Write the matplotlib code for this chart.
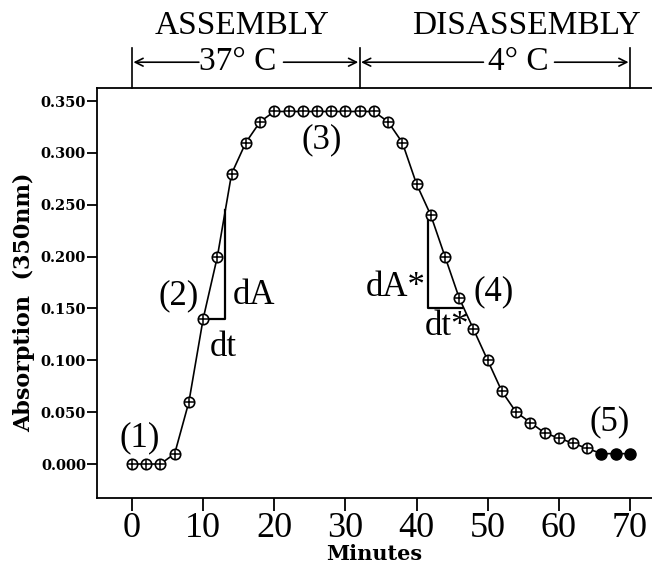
import matplotlib
matplotlib.use("Agg")
import matplotlib.pyplot as plt
import matplotlib.transforms as mtransforms

# ---- data ----
minutes = [0, 2, 4, 6, 8, 10, 12, 14, 16, 18, 20, 22, 24, 26, 28, 30, 32, 34,
           36, 38, 40, 42, 44, 46, 48, 50, 52, 54, 56, 58, 60, 62, 64, 66, 68, 70]
absorption = [0.000, 0.000, 0.000, 0.010, 0.060, 0.140, 0.200, 0.280, 0.310, 0.330,
              0.340, 0.340, 0.340, 0.340, 0.340, 0.340, 0.340, 0.340,
              0.330, 0.310, 0.270, 0.240, 0.200, 0.160, 0.130, 0.100, 0.070, 0.050,
              0.040, 0.030, 0.025, 0.020, 0.015, 0.010, 0.010, 0.010]
n_filled = 3  # last points drawn as solid dots

yticks = [0.000, 0.050, 0.100, 0.150, 0.200, 0.250, 0.300, 0.350]
xticks = [0, 10, 20, 30, 40, 50, 60, 70]

# tangent triangles (t, A) vertices
assembly_tri_t = [10, 13.1, 13.1]
assembly_tri_A = [0.140, 0.140, 0.245]
disassembly_tri_t = [41.6, 41.6, 46.4]
disassembly_tri_A = [0.240, 0.150, 0.150]

phase_bounds = [0, 32, 70]  # assembly 0-32 min (37 C), disassembly 32-70 min (4 C)

serif = "Liberation Serif"
boldserif = "DejaVu Serif"

fig = plt.figure(figsize=(6.52, 5.68), dpi=100)
ax = fig.add_axes([0.1488, 0.1232, 0.8512, 0.7218])

ax.plot(minutes, absorption, color="black", lw=1.2, zorder=2)
hollow_t = minutes[:-n_filled]
hollow_A = absorption[:-n_filled]
ax.plot(hollow_t, hollow_A, linestyle="none", marker="o", ms=7.5, mfc="white",
        mec="black", mew=1.2, zorder=3)
ax.plot(hollow_t, hollow_A, linestyle="none", marker="+", ms=7.5, mec="black",
        mew=1.1, zorder=4)
ax.plot(minutes[-n_filled:], absorption[-n_filled:], linestyle="none", marker="o",
        ms=8, mfc="black", mec="black", zorder=3)

ax.plot(assembly_tri_t, assembly_tri_A, color="black", lw=1.6, zorder=1)
ax.plot(disassembly_tri_t, disassembly_tri_A, color="black", lw=1.6, zorder=1)

ax.set_xlim(-4.92, 73.1)
ax.set_ylim(-0.0328, 0.3626)

ax.spines["right"].set_visible(False)
for s in ["left", "bottom", "top"]:
    ax.spines[s].set_linewidth(1.3)

ax.set_xticks(xticks)
ax.set_xticklabels([str(v) for v in xticks], fontfamily=serif, fontsize=26)
ax.set_yticks(yticks)
ax.set_yticklabels([f"{v:.3f}" for v in yticks], fontfamily=boldserif,
                   fontweight="bold", fontsize=10.5)
ax.tick_params(axis="x", direction="out", length=9, width=1.3, pad=1)
ax.tick_params(axis="y", direction="out", length=7, width=1.3, pad=1)

ax.set_xlabel("Minutes", fontfamily=boldserif, fontweight="bold", fontsize=15,
              labelpad=-1)
ax.set_ylabel("Absorption  (350nm)", fontfamily=boldserif, fontweight="bold",
              fontsize=16)
ax.yaxis.set_label_coords(-0.112, 0.478)

# annotations
ann_kw = dict(fontfamily=serif, fontsize=25, ha="center", va="center")
ax.text(1.1, 0.025, "(1)", **ann_kw)
ax.text(6.5, 0.162, "(2)", **ann_kw)
ax.text(26.7, 0.313, "(3)", **ann_kw)
ax.text(50.8, 0.166, "(4)", **ann_kw)
ax.text(67.1, 0.041, "(5)", **ann_kw)
ax.text(17.1, 0.163, "dA", **ann_kw)
ax.text(12.9, 0.112, "dt", **ann_kw)
ax.text(37.0, 0.170, "dA*", **ann_kw)
ax.text(44.3, 0.133, "dt*", **ann_kw)

# phase header
trans = mtransforms.blended_transform_factory(ax.transData, ax.transAxes)
for t in phase_bounds:
    ax.plot([t, t], [1.0, 1.098], transform=trans, color="black", lw=1.2,
            clip_on=False)
hdr_kw = dict(fontfamily=serif, fontsize=24, ha="center", va="center",
              transform=trans)
ax.text(15.5, 1.152, "ASSEMBLY", **hdr_kw)
ax.text(55.5, 1.152, "DISASSEMBLY", **hdr_kw)
ax.text(14.9, 1.063, "37° C", **hdr_kw)
ax.text(54.3, 1.063, "4° C", **hdr_kw)

arr_y = 1.063
arrow_kw = dict(arrowstyle="->", color="black", lw=1.2, mutation_scale=14,
                shrinkA=0, shrinkB=0)
for tip, tail in [(phase_bounds[0] + 0.2, 9.4), (phase_bounds[1] - 0.2, 21.3),
                  (phase_bounds[1] + 0.2, 49.4), (phase_bounds[2] - 0.2, 59.4)]:
    ax.annotate("", xy=(tip, arr_y), xytext=(tail, arr_y),
                xycoords=trans, textcoords=trans, arrowprops=arrow_kw,
                annotation_clip=False)

fig.savefig("out.png", dpi=100)
